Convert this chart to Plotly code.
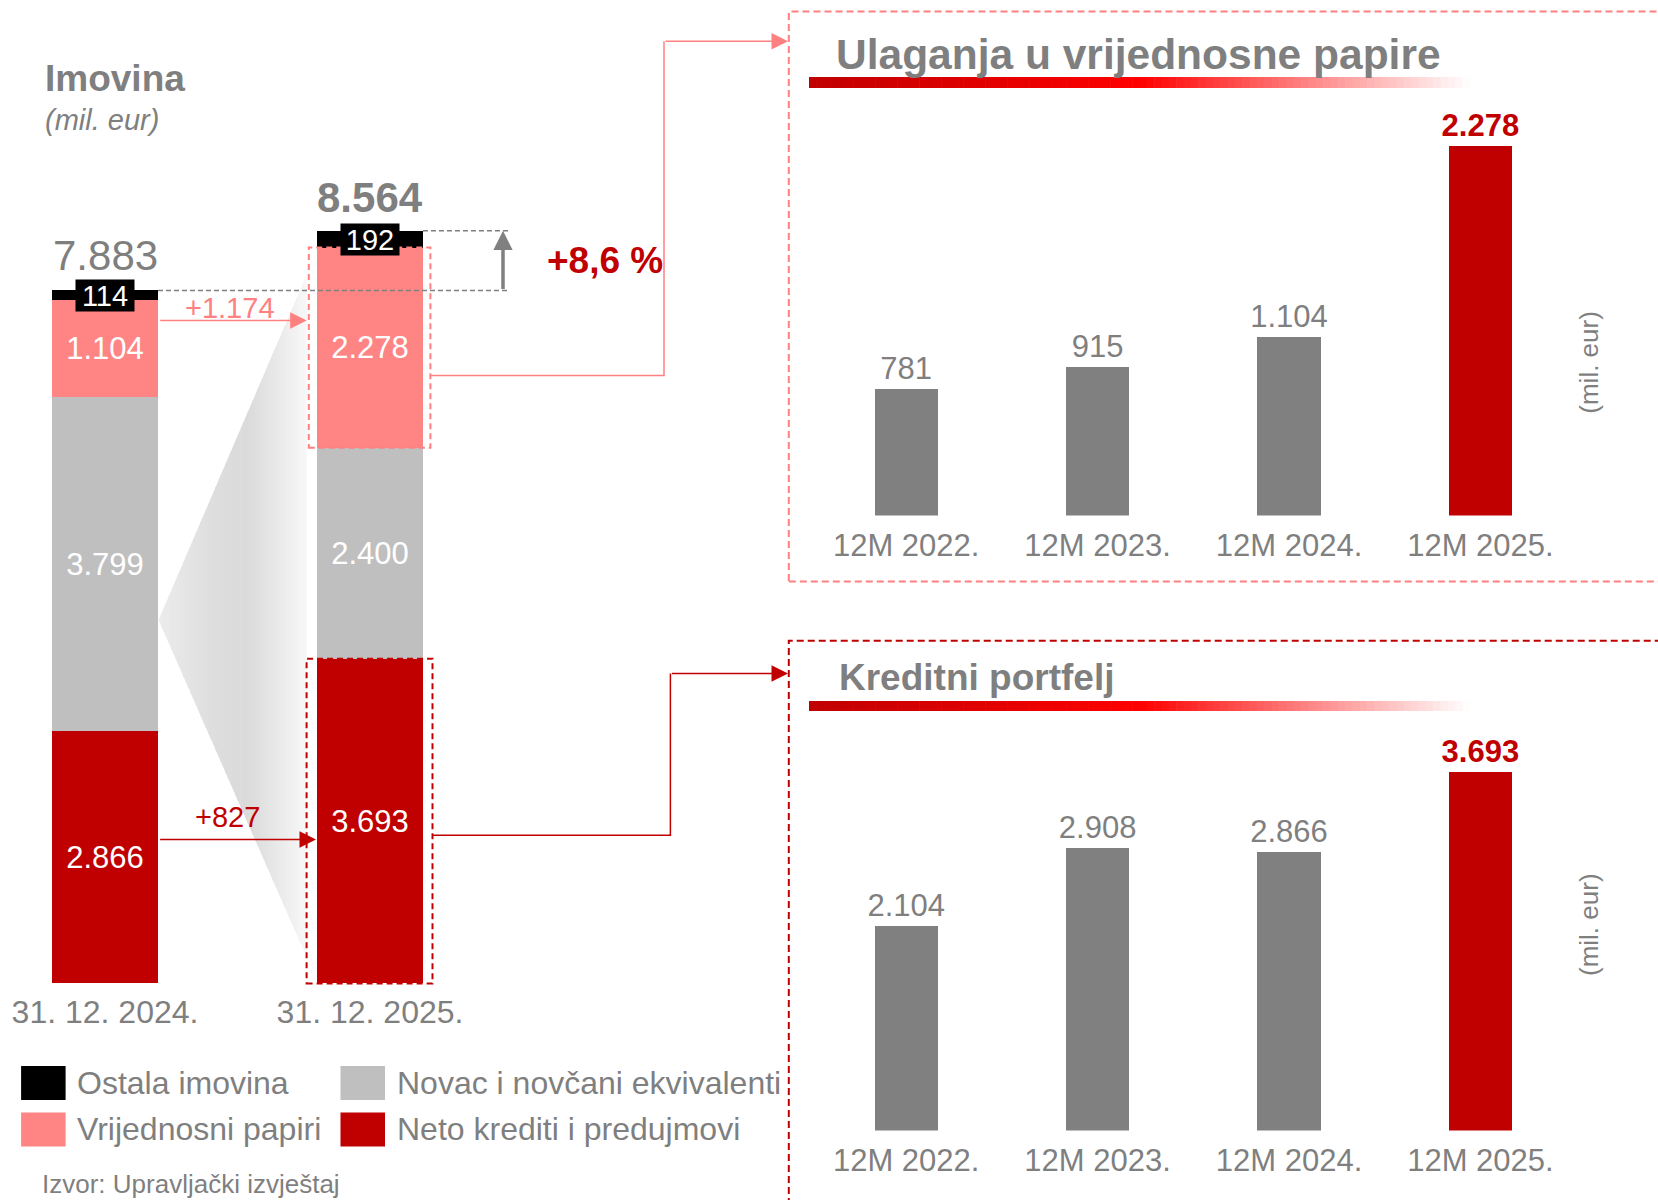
import plotly.graph_objects as go

W, H = 1658, 1200
FONT = "Liberation Sans, Arial, sans-serif"
TXT = "#7f7f7f"
RED = "#C00000"
PINK = "#FF8585"
LGRAY = "#BFBFBF"
BARGRAY = "#808080"

# ---------------- data ----------------
periods = ["31. 12. 2024.", "31. 12. 2025."]
neto_krediti = [2866, 3693]
novac = [3799, 2400]
vrijednosni = [1104, 2278]
ostala = [114, 192]
total_labels = ["7.883", "8.564"]
change_label = "+8,6 %"
diff_vrijednosni = "+1.174"
diff_krediti = "+827"

years = ["12M 2022.", "12M 2023.", "12M 2024.", "12M 2025."]
ulaganja = [781, 915, 1104, 2278]
kreditni = [2104, 2908, 2866, 3693]

legend_items = [("Ostala imovina", "black"), ("Novac i novčani ekvivalenti", LGRAY),
                ("Vrijednosni papiri", PINK), ("Neto krediti i predujmovi", RED)]


def px(x):
    return x / W


def py(y):
    return 1 - y / H


# ---------------- geometry of the subplots (pixels) ----------------
L_X_END = 779
L_CAT0, L_STEP = 105, 265          # centre of first bar, px per category
L_BOTTOM, L_TOP, L_SCALE = 983.4, 150, 0.08791
R_X0 = 788.8
R_CAT0, R_STEP = 906.2, 191.4
T_BOTTOM, T_TOP, T_SCALE = 515.5, 100, 0.16212
B_BOTTOM, B_TOP, B_SCALE = 1130.5, 700, 0.0972

l_r0 = -L_CAT0 / L_STEP
l_r1 = l_r0 + L_X_END / L_STEP
r_r0 = (R_X0 - R_CAT0) / R_STEP
r_r1 = r_r0 + (W - R_X0) / R_STEP


def lx(v):  # left axis data -> paper
    return px(L_CAT0 + v * L_STEP)


def ly(v):
    return py(L_BOTTOM - v * L_SCALE)


fig = go.Figure()

# ---------------- left stacked bars ----------------
stack = [("Neto krediti i predujmovi", neto_krediti, RED, True),
         ("Novac i novčani ekvivalenti", novac, LGRAY, True),
         ("Vrijednosni papiri", vrijednosni, PINK, True),
         ("Ostala imovina", ostala, "black", False)]
for name, vals, col, lab in stack:
    fig.add_trace(go.Bar(
        x=periods, y=vals, name=name, marker=dict(color=col, line=dict(width=0)),
        width=0.4, xaxis="x", yaxis="y",
        texttemplate="%{y:,}" if lab else "", textposition="inside" if lab else "none",
        insidetextanchor="middle", constraintext="none",
        textfont=dict(color="white", size=31, family=FONT), showlegend=False))

# ---------------- right bars ----------------
for vals, xa, ya in [(ulaganja, "x2", "y2"), (kreditni, "x3", "y3")]:
    fig.add_trace(go.Bar(
        x=years, y=vals, xaxis=xa, yaxis=ya, width=0.331,
        marker=dict(color=[BARGRAY] * (len(vals) - 1) + [RED], line=dict(width=0)),
        texttemplate=["%{y:,}"] * (len(vals) - 1) + ["<b>%{y:,}</b>"],
        textposition="outside", cliponaxis=False, constraintext="none",
        textfont=dict(size=31, family=FONT, color=[TXT] * (len(vals) - 1) + [RED]),
        showlegend=False))

shapes = []
ann = []

# gradient "fan" between the two bars
apex = (158.6, 620.0)
topv = (307.0, 274.0)
botv = (307.0, 958.0)
fan_stops = [(0, (236, 236, 236)), (0.35, (222, 222, 222)), (0.6, (218, 218, 218)), (1, (248, 248, 248))]
grad_stops = [(0, (192, 0, 0)), (0.5, (255, 0, 0)), (0.75, (255, 130, 130)), (1, (255, 255, 255))]


def interp(stops, t):
    for (t0, c0), (t1, c1) in zip(stops[:-1], stops[1:]):
        if t0 <= t <= t1:
            f = (t - t0) / (t1 - t0) if t1 > t0 else 0
            return "rgb(%d,%d,%d)" % tuple(round(a + (b - a) * f) for a, b in zip(c0, c1))
    return "rgb(%d,%d,%d)" % stops[-1][1]


def yt(x):
    return apex[1] + (topv[1] - apex[1]) * (x - apex[0]) / (topv[0] - apex[0])


def yb(x):
    return apex[1] + (botv[1] - apex[1]) * (x - apex[0]) / (botv[0] - apex[0])


N = 60
for i in range(N):
    xa = apex[0] + (topv[0] - apex[0]) * i / N
    xb = apex[0] + (topv[0] - apex[0]) * (i + 1) / N
    xb2 = min(xb + 0.6, topv[0])
    path = "M {},{} L {},{} L {},{} L {},{} Z".format(
        px(xa), py(yt(xa)), px(xb2), py(yt(xb2)), px(xb2), py(yb(xb2)), px(xa), py(yb(xa)))
    shapes.append(dict(type="path", path=path, xref="paper", yref="paper",
                       fillcolor=interp(fan_stops, (i + 0.5) / N), line=dict(width=0), layer="below"))

# dashed boxes around highlighted segments of the second bar
s2 = [neto_krediti[1], neto_krediti[1] + novac[1], neto_krediti[1] + novac[1] + vrijednosni[1]]
shapes.append(dict(type="rect", xref="paper", yref="paper",
                   x0=lx(1 - 61.2 / L_STEP), x1=lx(1 + 60.4 / L_STEP), y0=ly(s2[1]), y1=ly(s2[2]),
                   line=dict(color="#FF8080", width=2, dash="6px,4px")))
shapes.append(dict(type="rect", xref="paper", yref="paper",
                   x0=lx(1 - 63.4 / L_STEP), x1=lx(1 + 62.5 / L_STEP), y0=ly(0), y1=ly(s2[0]),
                   line=dict(color=RED, width=2, dash="6px,4px")))

# dashed reference lines at the two totals
tops = [neto_krediti[i] + novac[i] + vrijednosni[i] + ostala[i] for i in range(2)]
shapes.append(dict(type="line", xref="paper", yref="paper", x0=lx(0.2), x1=px(508), y0=ly(tops[0]), y1=ly(tops[0]),
                   line=dict(color="#808080", width=1.5, dash="5px,3px")))
shapes.append(dict(type="line", xref="paper", yref="paper", x0=lx(1.2), x1=px(508), y0=ly(tops[1]), y1=ly(tops[1]),
                   line=dict(color="#808080", width=1.5, dash="5px,3px")))

# connectors to the right panels
shapes.append(dict(type="path", xref="paper", yref="paper",
                   path="M {},{} L {},{} L {},{}".format(px(430.4), py(375.4), px(664), py(375.4), px(664), py(41.2)),
                   line=dict(color="#FF8080", width=1.5)))
shapes.append(dict(type="path", xref="paper", yref="paper",
                   path="M {},{} L {},{} L {},{}".format(px(432.5), py(835.3), px(670.4), py(835.3), px(670.4), py(673.6)),
                   line=dict(color=RED, width=1.5)))

# panel frames
shapes.append(dict(type="rect", xref="paper", yref="paper", x0=px(R_X0), x1=1.02, y0=py(581.6), y1=py(11.6),
                   line=dict(color="#FF8080", width=2, dash="7px,4px")))
shapes.append(dict(type="rect", xref="paper", yref="paper", x0=px(R_X0), x1=1.02, y0=-0.05, y1=py(640.8),
                   line=dict(color=RED, width=2, dash="7px,4px")))

# gradient underlines of panel titles
for (y0, y1) in [(77, 88), (701, 711)]:
    x_start, x_end = 809.0, 1470.0
    M = 90
    for i in range(M):
        a = x_start + (x_end - x_start) * i / M
        b = x_start + (x_end - x_start) * (i + 1) / M + 0.6
        shapes.append(dict(type="rect", xref="paper", yref="paper", x0=px(a), x1=px(min(b, x_end)),
                           y0=py(y1), y1=py(y0), fillcolor=interp(grad_stops, (i + 0.5) / M),
                           line=dict(width=0)))

# manual legend
leg_pos = [(21.1, 1066), (340.5, 1066), (21.1, 1112.4), (340.5, 1112.4)]
for (lab, col), (x0, y0) in zip(legend_items, leg_pos):
    shapes.append(dict(type="rect", xref="paper", yref="paper", x0=px(x0), x1=px(x0 + 44.5),
                       y0=py(y0 + 34), y1=py(y0), fillcolor=col, line=dict(width=0)))
    ann.append(dict(x=px(x0 + 54), y=py(y0 + 17), xref="paper", yref="paper", xanchor="left",
                    yanchor="middle", text=lab, showarrow=False, font=dict(size=32, color=TXT, family=FONT)))

# ---------------- annotations ----------------
ann.append(dict(x=px(43), y=py(79), xref="paper", yref="paper", xanchor="left", yanchor="middle",
                text="<b>Imovina</b>", showarrow=False, font=dict(size=37, color=TXT, family=FONT)))
ann.append(dict(x=px(43), y=py(119.5), xref="paper", yref="paper", xanchor="left", yanchor="middle",
                text="<i>(mil. eur)</i>", showarrow=False, font=dict(size=29, color=TXT, family=FONT)))

for i in range(2):
    ann.append(dict(x=periods[i], y=tops[i], xref="x", yref="y", xanchor="center", yanchor="middle",
                    yshift=35 if i == 0 else 33,
                    text=total_labels[i] if i == 0 else "<b>%s</b>" % total_labels[i], showarrow=False,
                    font=dict(size=42, color=TXT, family=FONT)))
    ann.append(dict(x=periods[i], y=tops[i] - ostala[i] / 2, xref="x", yref="y", xanchor="center",
                    yanchor="middle",
                    text=str(ostala[i]), showarrow=False, bgcolor="black", width=58, height=31, borderpad=0,
                    font=dict(size=29, color="white", family=FONT)))

# growth arrow
ann.append(dict(x=px(503), y=ly(tops[1]), ax=0, ay=(tops[1] - tops[0]) * L_SCALE, xref="paper", yref="paper",
                text="", showarrow=True, arrowhead=2, arrowsize=1.1,
                arrowwidth=3.5, arrowcolor="#808080", standoff=0))
ann.append(dict(x=px(604.8), y=py(260), xref="paper", yref="paper", xanchor="center", yanchor="middle",
                text="<b>%s</b>" % change_label,
                showarrow=False, font=dict(size=37, color=RED, family=FONT)))

# difference arrows
ann.append(dict(x=px(306.7), y=py(320.4), ax=-148, ay=0, xref="paper", yref="paper", text="",
                showarrow=True, arrowhead=2, arrowsize=2.2, arrowwidth=1.5, arrowcolor="#FF8080"))
ann.append(dict(x=px(230.5), y=py(307.7), xref="paper", yref="paper", xanchor="center", yanchor="middle",
                text=diff_vrijednosni,
                showarrow=False, font=dict(size=29, color="#FF8080", family=FONT)))
ann.append(dict(x=px(316), y=py(839.5), ax=-157.4, ay=0, xref="paper", yref="paper", text="",
                showarrow=True, arrowhead=2, arrowsize=2.2, arrowwidth=1.5, arrowcolor=RED))
ann.append(dict(x=px(227), y=py(817.4), xref="paper", yref="paper", xanchor="center", yanchor="middle",
                text=diff_krediti,
                showarrow=False, font=dict(size=29, color=RED, family=FONT)))

# connector arrowheads into panels
ann.append(dict(x=px(788), y=py(41.2), ax=-(788 - 664), ay=0, xref="paper", yref="paper", text="",
                showarrow=True, arrowhead=2, arrowsize=2.2, arrowwidth=1.5, arrowcolor="#FF8080"))
ann.append(dict(x=px(788), y=py(673.6), ax=-(788 - 670.4), ay=0, xref="paper", yref="paper", text="",
                showarrow=True, arrowhead=2, arrowsize=2.2, arrowwidth=1.5, arrowcolor=RED))

# panel titles
ann.append(dict(x=px(834), y=py(55), xref="paper", yref="paper", xanchor="left", yanchor="middle",
                text="<b>Ulaganja u vrijednosne papire</b>", showarrow=False,
                font=dict(size=42.5, color=TXT, family=FONT)))
ann.append(dict(x=px(837), y=py(677), xref="paper", yref="paper", xanchor="left", yanchor="middle",
                text="<b>Kreditni portfelj</b>", showarrow=False,
                font=dict(size=37, color=TXT, family=FONT)))
for yc in [362.7, 925]:
    ann.append(dict(x=px(1589), y=py(yc), xref="paper", yref="paper", xanchor="center", yanchor="middle",
                    text="(mil. eur)", textangle=-90,
                    showarrow=False, font=dict(size=26, color=TXT, family=FONT)))

ann.append(dict(x=px(40), y=py(1184), xref="paper", yref="paper", xanchor="left", yanchor="middle",
                text="Izvor: Upravljački izvještaj", showarrow=False, font=dict(size=26, color=TXT, family=FONT)))

ax_common = dict(showgrid=False, zeroline=False, showline=False, type="category", fixedrange=True,
                 ticks="outside", tickcolor="rgba(0,0,0,0)")
fig.update_layout(
    width=W, height=H, margin=dict(l=0, r=0, t=0, b=0),
    paper_bgcolor="white", plot_bgcolor="rgba(0,0,0,0)",
    separators=",.", barmode="stack", showlegend=False,
    font=dict(family=FONT, color=TXT),
    xaxis=dict(domain=[0, px(L_X_END)], range=[l_r0, l_r1], anchor="y", ticklen=0,
               tickfont=dict(size=32, color=TXT, family=FONT), **ax_common),
    yaxis=dict(domain=[py(L_BOTTOM), py(L_TOP)], range=[0, (L_BOTTOM - L_TOP) / L_SCALE], visible=False,
               anchor="x"),
    xaxis2=dict(domain=[px(R_X0), 1], range=[r_r0, r_r1], anchor="y2", ticklen=2,
                tickfont=dict(size=31, color=TXT, family=FONT), **ax_common),
    yaxis2=dict(domain=[py(T_BOTTOM), py(T_TOP)], range=[0, (T_BOTTOM - T_TOP) / T_SCALE], visible=False,
                anchor="x2"),
    xaxis3=dict(domain=[px(R_X0), 1], range=[r_r0, r_r1], anchor="y3", ticklen=2,
                tickfont=dict(size=31, color=TXT, family=FONT), **ax_common),
    yaxis3=dict(domain=[py(B_BOTTOM), py(B_TOP)], range=[0, (B_BOTTOM - B_TOP) / B_SCALE], visible=False,
                anchor="x3"),
    shapes=shapes, annotations=ann,
)

fig.write_html("out.html", config={"displayModeBar": False},
               post_script="document.body.style.margin='0';document.body.style.overflow='hidden';")
